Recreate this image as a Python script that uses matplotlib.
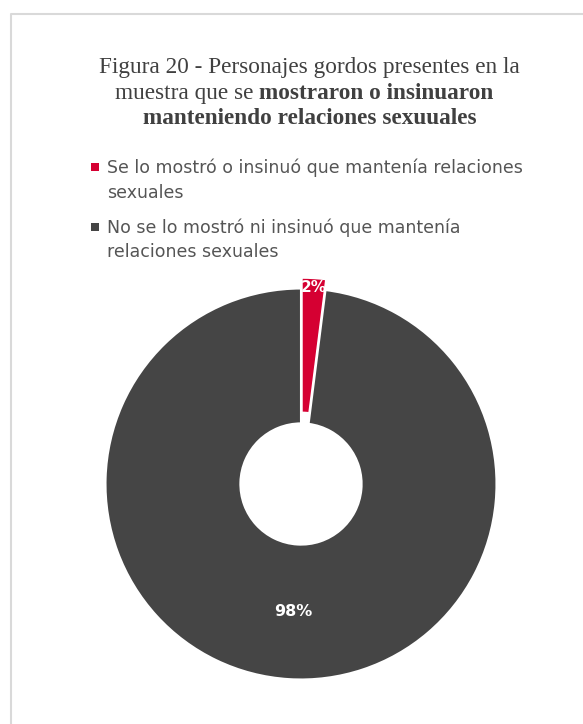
import numpy as np
import matplotlib.pyplot as plt
from matplotlib.patches import Rectangle

# share of characters shown (or hinted) having sex, percent
categorias = [['Se lo mostró o insinuó que mantenía relaciones', 'sexuales'],
              ['No se lo mostró ni insinuó que mantenía', 'relaciones sexuales']]
valores = [2, 98]
colores = ['#D50032', '#454545']

W, H = 583, 724
fig = plt.figure(figsize=(W / 100, H / 100), dpi=100)
renderer = fig.canvas.get_renderer()

# light frame around the card
frame = fig.add_axes([0, 0, 1, 1])
frame.set_xlim(0, W)
frame.set_ylim(H, 0)
frame.axis('off')
frame.plot([10.5, 10.5, W + 5], [H + 5, 13.5, 13.5], color='#d9d9d9', lw=1.5)


def ancho(s, size, **kw):
    t = fig.text(0, 0, s, fontsize=size, **kw)
    w = t.get_window_extent(renderer).width
    t.remove()
    return w


# title: serif, some words in bold
serif = 'Liberation Serif'
tcolor = '#404040'
tsize = 14 * 423 / ancho('Figura 20 - Personajes gordos presentes en la', 14, family=serif)


def linea(partes, y, xc):
    txts = []
    for s, peso in partes:
        t = fig.text(0, 0, s, fontsize=tsize, family=serif, weight=peso,
                     color=tcolor, va='baseline', transform=None)
        txts.append(t)
    anchos = [t.get_window_extent(renderer).width for t in txts]
    x = xc - sum(anchos) / 2
    for t, a in zip(txts, anchos):
        t.set_position((x, H - y))
        x += a


linea([('Figura 20 - Personajes gordos presentes en la', 'normal')], 73, 309)
linea([('muestra que se ', 'normal'), ('mostraron o insinuaron', 'bold')], 99, 304)
linea([('manteniendo relaciones sexuuales', 'bold')], 124, 310)

# legend
lfam = 'DejaVu Sans'
lsize = 11 * 416 / ancho(categorias[0][0], 11, family=lfam)
bases = [[173, 198], [233, 257]]
for lineas, col, yb in zip(categorias, colores, bases):
    frame.add_patch(Rectangle((91, yb[0] - 10), 8, 8, color=col, lw=0))
    for s, y in zip(lineas, yb):
        frame.text(107, y, s, fontsize=lsize, family=lfam, color='#555555',
                   va='baseline', ha='left')

# donut
cx, cy, r = 301, 484, 195.5
lim = 1.1
side = 2 * lim * r
ax = fig.add_axes([(cx - side / 2) / W, (H - cy - side / 2) / H, side / W, side / H])
wedges, _ = ax.pie(valores, colors=colores, startangle=90, counterclock=False,
                   explode=[0.055, 0], radius=1,
                   wedgeprops=dict(width=0.69, edgecolor='white', linewidth=1.5))
ax.set_xlim(-lim, lim)
ax.set_ylim(-lim, lim)
ax.set_aspect('equal')

for w, v, d, fs in zip(wedges, valores, [0.95, 0.655], [11, 11.5]):
    ang = np.deg2rad((w.theta1 + w.theta2) / 2)
    cxw, cyw = w.center
    ax.text(cxw + d * np.cos(ang), cyw + d * np.sin(ang), f'{v}%',
            ha='center', va='center', color='white', fontsize=fs,
            weight='bold', family='DejaVu Sans', clip_on=False)

fig.savefig('out.png', dpi=100, facecolor='white')
